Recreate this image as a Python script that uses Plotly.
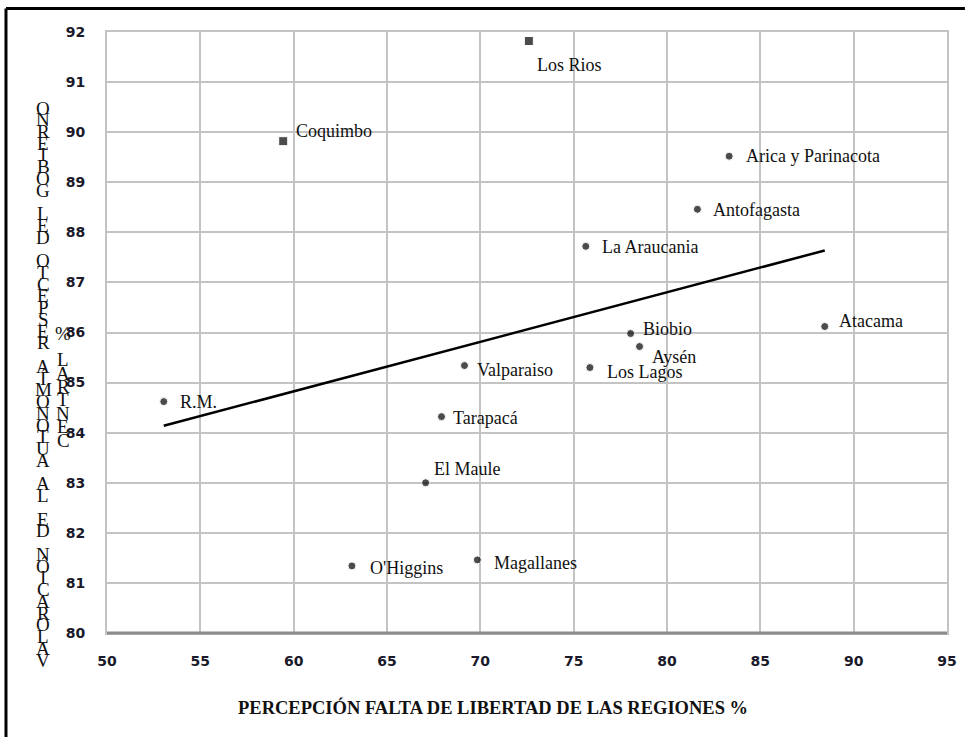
import numpy as np
import plotly.graph_objects as go

# ---- data ----
regions = ["Los Rios", "Coquimbo", "Arica y Parinacota", "Antofagasta", "La Araucania",
           "Atacama", "Biobio", "Aysén", "Los Lagos", "Valparaiso", "R.M.",
           "Tarapacá", "El Maule", "O'Higgins", "Magallanes"]
falta_libertad = [72.6, 59.44, 83.33, 81.63, 75.65, 88.45, 78.05, 78.53, 75.87,
                  69.15, 53.04, 67.92, 67.07, 63.12, 69.84]
autonomia = [91.82, 89.82, 89.52, 88.46, 87.72, 86.12, 85.98, 85.72, 85.30,
             85.34, 84.62, 84.32, 83.00, 81.34, 81.46]
x_ticks = [50, 55, 60, 65, 70, 75, 80, 85, 90, 95]
y_ticks = [80, 81, 82, 83, 84, 85, 86, 87, 88, 89, 90, 91, 92]
x_title = "PERCEPCIÓN FALTA DE LIBERTAD DE LAS REGIONES %"
y_title_1 = "VALORACIÓN DE LA AUTONOMÍA RESPECTO DEL GOBIERNO"
y_title_2 = "CENTRAL %"

# ---- styles ----
label_offsets = {  # (xshift, yshift) in px
    "Los Rios": (6, -24), "Coquimbo": (11, 10), "Arica y Parinacota": (15, 0),
    "Antofagasta": (14, -1), "La Araucania": (14, -1), "Atacama": (12, 5),
    "Biobio": (10, 5), "Aysén": (10, -10), "Los Lagos": (15, -4),
    "Valparaiso": (11, -4), "R.M.": (14, 0), "Tarapacá": (9, -1),
    "El Maule": (6, 14), "O'Higgins": (16, -2), "Magallanes": (15, -3),
}
square_pts = {"Los Rios", "Coquimbo"}

W, H = 969, 737
ML, MR, MT, MB = 107, 18, 32, 104
PW, PH = W - ML - MR, H - MT - MB


def fx(px):
    return (px - ML) / PW


def fy(py):
    return (H - MB - py) / PH


fig = go.Figure()

# trend line (least squares)
slope, intercept = np.polyfit(falta_libertad, autonomia, 1)
xl = np.array([min(falta_libertad), max(falta_libertad)])
fig.add_trace(go.Scatter(x=xl, y=slope * xl + intercept, mode="lines",
                         line=dict(color="black", width=2.5),
                         hoverinfo="skip", showlegend=False))

fig.add_trace(go.Scatter(
    x=falta_libertad, y=autonomia, mode="markers",
    marker=dict(color="black",
                symbol=["square" if r in square_pts else "circle" for r in regions],
                size=[9 if r in square_pts else 8 for r in regions]),
    text=regions, showlegend=False))

annotations = []
for r, xv, yv in zip(regions, falta_libertad, autonomia):
    dx, dy = label_offsets[r]
    annotations.append(dict(x=xv, y=yv, text=r, showarrow=False, xanchor="left",
                            yanchor="middle", xshift=dx, yshift=dy,
                            font=dict(family="Liberation Serif", size=18, color="#111")))

# x axis title
annotations.append(dict(x=fx(495), y=fy(708), xref="paper", yref="paper", text="<b>" + x_title + "</b>",
                        showarrow=False, xanchor="center", yanchor="middle",
                        font=dict(family="Liberation Serif", size=18.5, color="#111")))

# stacked y title (letters read bottom to top)
step1 = (660 - 108) / (len(y_title_1) - 1)
for i, ch in enumerate(y_title_1):
    if ch == " ":
        continue
    annotations.append(dict(x=fx(43), y=fy(660 - i * step1), xref="paper", yref="paper",
                            text=ch, showarrow=False,
                            xanchor="center", yanchor="middle",
                            font=dict(family="Liberation Serif", size=19, color="#111")))
step2 = (440 - 333) / (len(y_title_2) - 1)
for i, ch in enumerate(y_title_2):
    if ch == " ":
        continue
    annotations.append(dict(x=fx(63), y=fy(440 - i * step2), xref="paper", yref="paper",
                            text=ch, showarrow=False,
                            xanchor="center", yanchor="middle",
                            font=dict(family="Liberation Serif", size=19, color="#111")))

shapes = [
    # bottom axis line darker
    dict(type="line", xref="paper", yref="paper", x0=0, x1=1, y0=0, y1=0,
         line=dict(color="#8c8c8c", width=3)),
    # outer frame
    dict(type="line", xref="paper", yref="paper", x0=fx(5.5), x1=fx(969), y0=fy(8.5), y1=fy(8.5),
         line=dict(color="black", width=3)),
    dict(type="line", xref="paper", yref="paper", x0=fx(5.5), x1=fx(5.5), y0=fy(8.5), y1=fy(737),
         line=dict(color="black", width=3)),
]

fig.update_layout(
    width=W, height=H,
    margin=dict(l=ML, r=MR, t=MT, b=MB),
    paper_bgcolor="white", plot_bgcolor="white",
    annotations=annotations, shapes=shapes,
    xaxis=dict(range=[50, 95], tickvals=x_ticks, showgrid=True, gridcolor="#c3c3c3", gridwidth=2,
               zeroline=False, showline=True, mirror=True, linecolor="#c3c3c3", linewidth=2,
               ticks="", ticklabelstandoff=14,
               tickfont=dict(family="DejaVu Sans", size=14, color="#1a1a2a", weight="bold")),
    yaxis=dict(range=[80, 92], tickvals=y_ticks, showgrid=True, gridcolor="#c3c3c3", gridwidth=2,
               zeroline=False, showline=True, mirror=True, linecolor="#c3c3c3", linewidth=2,
               ticks="", ticklabelstandoff=17,
               tickfont=dict(family="DejaVu Sans", size=14, color="#1a1a2a", weight="bold")),
)

fig.write_html("out.html", config={"displayModeBar": False},
               post_script="document.body.style.margin='0';")
